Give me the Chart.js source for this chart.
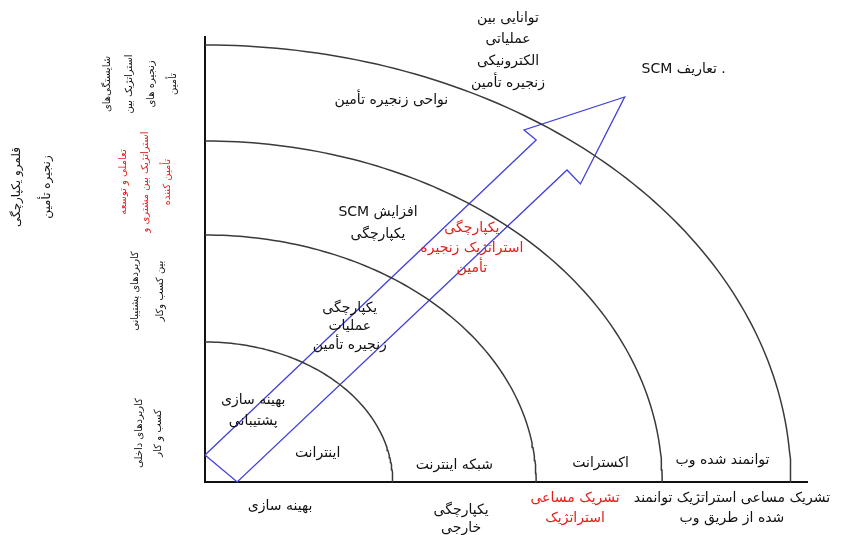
<!DOCTYPE html>
<html>
<head>
<meta charset="utf-8">
<script src="https://cdn.jsdelivr.net/npm/chart.js@4.4.0/dist/chart.umd.min.js"></script>
<style>
  html, body { margin: 0; padding: 0; background: #ffffff; }
  #wrap { width: 848px; height: 535px; }
</style>
</head>
<body>
<div id="wrap"><canvas id="c" width="848" height="535"></canvas></div>
<script>
// ---- data ----
// radii of the four integration rings (in chart units)
const ringRadii = [1.40, 2.47, 3.41, 4.37];
// arrow outline vertices (chart units)
const arrowX = [0.00, 2.47, 2.38, 3.13, 2.80, 2.70, 0.24, 0.00];
const arrowY = [0.27, 3.42, 3.52, 3.85, 2.98, 3.12, 0.00, 0.27];
// axis extents
const xMax = 4.49;
const yMax = 4.45;

// texts
const topGroupLines = ['توانایی بین', 'عملیاتی', 'الکترونیکی', 'زنجیره تأمین'];
const scmDefinitionsLabel = '. تعاریف SCM';
const chainAreasLabel = 'نواحی زنجیره تأمین';
const increaseLines = ['افزایش SCM', 'یکپارچگی'];
const strategicLines = ['یکپارچگی', 'استراتژیک زنجیره', 'تأمین'];
const operationsLines = ['یکپارچگی', 'عملیات', 'زنجیره تأمین'];
const supportLines = ['بهینه سازی', 'پشتیبانی'];
const ringLabels = ['اینترانت', 'شبکه اینترنت', 'اکسترانت', 'توانمند شده وب'];
const xLabel1 = ['بهینه سازی'];
const xLabel2 = ['یکپارچگی', 'خارجی'];
const xLabel3 = ['تشریک مساعی', 'استراتژیک'];
const xLabel4 = ['تشریک مساعی استراتژیک توانمند', 'شده از طریق وب'];
const yTitleLines = ['قلمرو یکپارچگی', 'زنجیره تأمین'];
const yLabel4 = ['شایستگی‌های', 'استراتژیک بین', 'زنجیره های', 'تأمین'];
const yLabel3 = ['تعاملی و توسعه', 'استراتژیک بین مشتری و', 'تأمین کننده'];
const yLabel2 = ['کاربردهای پشتیبانی', 'بین کسب وکار'];
const yLabel1 = ['کاربردهای داخلی', 'کسب و کار'];

// ---- styling / placement (not data) ----
const BLACK = '#111111';
const RED = '#e0201c';
const FONT_H = '14px "DejaVu Sans"';
const FONT_V = '10px "DejaVu Sans"';
const FONT_T = '12px "DejaVu Sans"';

// horizontal labels: [lines, x, y of first line, dy between lines (units), color]
const hLabels = [
  [topGroupLines, 2.26, 4.64, 0.217, BLACK],
  [[scmDefinitionsLabel], 3.57, 4.13, 0, BLACK],
  [[chainAreasLabel], 1.39, 3.82, 0, BLACK],
  [increaseLines, 1.29, 2.70, 0.22, BLACK],
  [strategicLines, 1.99, 2.54, 0.20, RED],
  [operationsLines, 1.08, 1.74, 0.185, BLACK],
  [supportLines, 0.36, 0.82, 0.21, BLACK],
  [[ringLabels[0]], 0.84, 0.29, 0, BLACK],
  [[ringLabels[1]], 1.86, 0.17, 0, BLACK],
  [[ringLabels[2]], 2.95, 0.19, 0, BLACK],
  [[ringLabels[3]], 3.86, 0.22, 0, BLACK],
  [xLabel1, 0.56, -0.24, 0, BLACK],
  [xLabel2, 1.91, -0.28, 0.18, BLACK],
  [xLabel3, 2.76, -0.16, 0.20, RED],
  [xLabel4, 3.93, -0.16, 0.20, BLACK]
];
// rotated labels: [lines, x of first line, y center, dx between lines (units), color, font]
const vLabels = [
  [yTitleLines, -1.40, 2.95, 0.22, BLACK, FONT_T],
  [yLabel4, -0.73, 3.98, 0.165, BLACK, FONT_V],
  [yLabel3, -0.61, 3.00, 0.165, RED, FONT_V],
  [yLabel2, -0.52, 1.91, 0.185, BLACK, FONT_V],
  [yLabel1, -0.49, 0.49, 0.14, BLACK, FONT_V]
];

function arcPoints(r) {
  const pts = [];
  for (let a = 0; a <= 90; a += 1) {
    const t = a * Math.PI / 180;
    pts.push({ x: r * Math.cos(t), y: r * Math.sin(t) });
  }
  return pts;
}

const datasets = ringRadii.map(r => ({
  data: arcPoints(r),
  showLine: true,
  borderColor: '#3a3a3a',
  borderWidth: 1.5,
  pointRadius: 0,
  tension: 0,
  clip: false
}));
datasets.push({
  data: arrowX.map((x, i) => ({ x: x, y: arrowY[i] })),
  showLine: true,
  borderColor: '#4040dc',
  borderWidth: 1.3,
  pointRadius: 0,
  tension: 0,
  clip: false
});

const textPlugin = {
  id: 'texts',
  afterDraw(chart) {
    const ctx = chart.ctx;
    const xs = chart.scales.x, ys = chart.scales.y;
    ctx.save();
    ctx.textAlign = 'center';
    ctx.textBaseline = 'middle';
    ctx.direction = 'rtl';
    ctx.font = FONT_H;
    hLabels.forEach(([lines, x, y, dy, color]) => {
      ctx.fillStyle = color;
      lines.forEach((s, i) => {
        ctx.fillText(s, xs.getPixelForValue(x), ys.getPixelForValue(y - i * dy));
      });
    });
    vLabels.forEach(([lines, x, y, dx, color, font]) => {
      ctx.fillStyle = color;
      ctx.font = font;
      lines.forEach((s, i) => {
        const px = xs.getPixelForValue(x + i * dx);
        const py = ys.getPixelForValue(y);
        ctx.save();
        ctx.translate(px, py);
        ctx.rotate(-Math.PI / 2);
        ctx.fillText(s, 0, 0);
        ctx.restore();
      });
    });
    ctx.restore();
  }
};

new Chart(document.getElementById('c'), {
  type: 'scatter',
  data: { datasets: datasets },
  options: {
    responsive: false,
    animation: false,
    devicePixelRatio: 1,
    layout: { padding: { left: 205, right: 41, top: 37, bottom: 53 } },
    plugins: { legend: { display: false }, tooltip: { enabled: false } },
    scales: {
      x: {
        type: 'linear', min: 0, max: xMax,
        ticks: { display: false },
        grid: { display: false, drawTicks: false },
        border: { display: true, color: '#111111', width: 2 }
      },
      y: {
        type: 'linear', min: 0, max: yMax,
        ticks: { display: false },
        grid: { display: false, drawTicks: false },
        border: { display: true, color: '#111111', width: 2 }
      }
    }
  },
  plugins: [textPlugin]
});
</script>
</body>
</html>
